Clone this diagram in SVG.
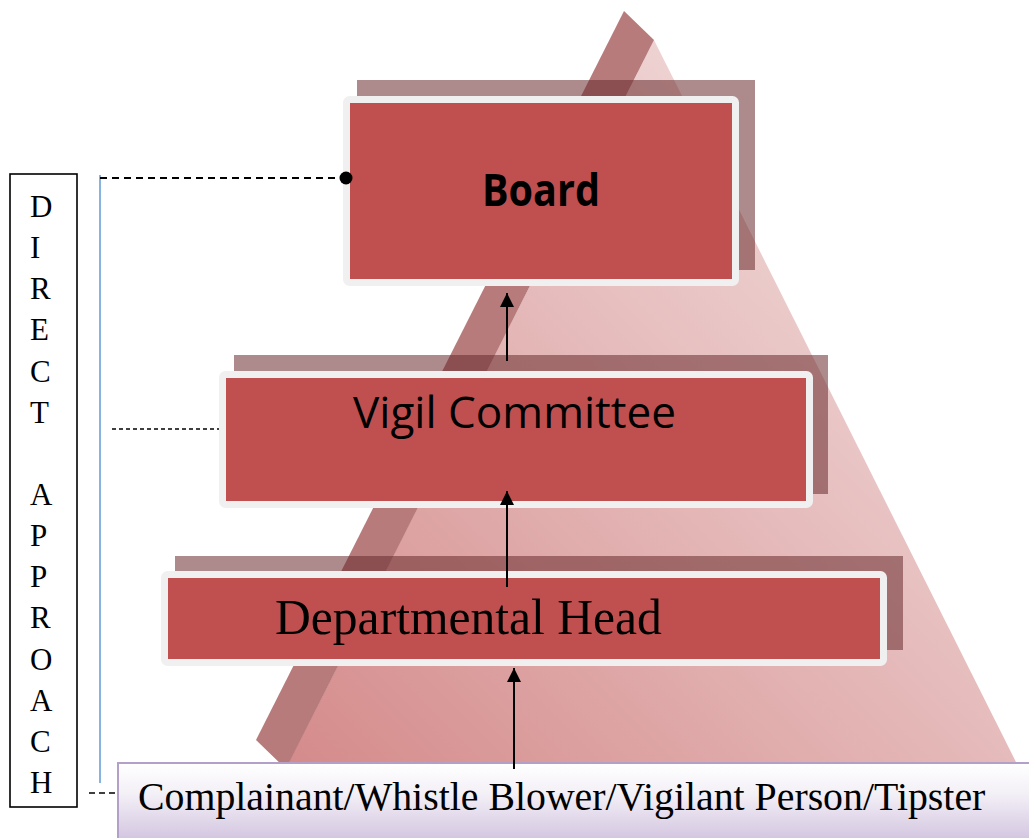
<svg xmlns="http://www.w3.org/2000/svg" width="1029" height="838" viewBox="0 0 1029 838">
  <style>
    .shadow { fill: #6a2c2e; fill-opacity: 0.55; }
    .frame { fill: #c0504f; stroke: #f0f0f0; stroke-width: 7; }
    .serif { font-family: "Liberation Serif", "Times New Roman", serif; fill: #000; }
    .sans { font-family: "Open Sans", "Noto Sans", "DejaVu Sans", sans-serif; fill: #000; }
    .arrow { stroke: #000; stroke-width: 2; fill: none; marker-end: url(#head); }
  </style>
  <defs>
    <linearGradient id="pyr" x1="1" y1="0" x2="0" y2="1">
      <stop offset="0" stop-color="#f6e8e8"/>
      <stop offset="0.45" stop-color="#e7bfbf"/>
      <stop offset="1" stop-color="#d48888"/>
    </linearGradient>
    <linearGradient id="comp" x1="0" y1="0" x2="0" y2="1">
      <stop offset="0" stop-color="#ffffff"/>
      <stop offset="0.35" stop-color="#f3eff6"/>
      <stop offset="1" stop-color="#c9b9d9"/>
    </linearGradient>
    <marker id="head" viewBox="0 0 15 14" refX="14" refY="7" markerWidth="15" markerHeight="14" markerUnits="userSpaceOnUse" orient="auto">
      <path d="M0,0 L14,7 L0,14 Z" fill="#000"/>
    </marker>
  </defs>

  <rect width="1029" height="838" fill="#ffffff"/>

  <!-- pyramid background -->
  <g id="pyramid">
    <polygon points="654,40 1030,790 275,790" fill="url(#pyr)"/>
    <polygon points="624,11 654,40 286,769 256,740" fill="#b77b7c"/>
  </g>

  <!-- Direct approach label -->
  <g id="direct-approach">
    <rect x="10" y="174" width="67" height="633" fill="#fff" stroke="#000" stroke-width="1.6"/>
    <g class="serif" font-size="31">
      <text x="30" y="217">D</text>
      <text x="30" y="258">I</text>
      <text x="30" y="299">R</text>
      <text x="30" y="340">E</text>
      <text x="30" y="382">C</text>
      <text x="30" y="423">T</text>
      <text x="30" y="505">A</text>
      <text x="30" y="546">P</text>
      <text x="30" y="587">P</text>
      <text x="30" y="628">R</text>
      <text x="30" y="670">O</text>
      <text x="30" y="711">A</text>
      <text x="30" y="752">C</text>
      <text x="30" y="793">H</text>
    </g>
  </g>

  <!-- Board -->
  <g id="board">
    <rect class="shadow" x="357" y="80" width="398" height="190"/>
    <rect class="frame" x="346.5" y="99.5" width="389" height="183" rx="3"/>
    <text class="sans" x="541" y="206" font-size="44" font-weight="bold" text-anchor="middle" textLength="118" lengthAdjust="spacingAndGlyphs">Board</text>
  </g>

  <!-- Vigil Committee -->
  <g id="vigil-committee">
    <rect class="shadow" x="234" y="355" width="594" height="139"/>
    <rect class="frame" x="222.5" y="374.5" width="587" height="130" rx="3"/>
    <text class="sans" x="514.5" y="428" font-size="43" text-anchor="middle" textLength="323" lengthAdjust="spacingAndGlyphs">Vigil Committee</text>
  </g>

  <!-- Departmental Head -->
  <g id="departmental-head">
    <rect class="shadow" x="175" y="556" width="728" height="94"/>
    <rect class="frame" x="164.5" y="574.5" width="719" height="88" rx="3"/>
    <text class="serif" x="275" y="634" font-size="49.6">Departmental Head</text>
  </g>

  <!-- Complainant -->
  <g id="complainant">
    <rect x="118" y="763" width="920" height="90" fill="url(#comp)" stroke="#b3a0c9" stroke-width="2"/>
    <text class="serif" x="138" y="810" font-size="39.8">Complainant/Whistle Blower/Vigilant Person/Tipster</text>
  </g>

  <!-- connectors -->
  <g id="connectors">
    <line x1="100" y1="175" x2="100" y2="783" stroke="#5b9bd5" stroke-width="1.5"/>
    <line x1="100" y1="178" x2="346" y2="178" stroke="#000" stroke-width="2" stroke-dasharray="7 5"/>
    <circle cx="346" cy="178" r="6.5" fill="#000"/>
    <line x1="112" y1="429" x2="219" y2="429" stroke="#000" stroke-width="1.4" stroke-dasharray="4 3"/>
    <line x1="89" y1="793" x2="118" y2="793" stroke="#000" stroke-width="1.6" stroke-dasharray="6 4"/>
    <line class="arrow" x1="507" y1="361" x2="507" y2="293"/>
    <line class="arrow" x1="507" y1="587" x2="507" y2="491"/>
    <line class="arrow" x1="514" y1="769" x2="514" y2="668"/>
  </g>
</svg>
